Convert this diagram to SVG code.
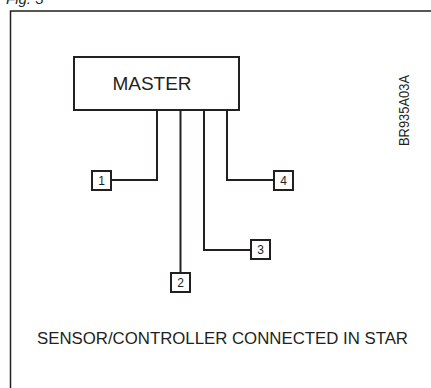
<svg xmlns="http://www.w3.org/2000/svg" width="431" height="388" viewBox="0 0 431 388">
  <style>
    .frame { fill: none; stroke: #231f20; stroke-width: 1.5; }
    .box { fill: #ffffff; stroke: #231f20; stroke-width: 2; }
    .wire { fill: none; stroke: #231f20; stroke-width: 2; }
    .txt { font-family: "Liberation Sans", Arial, sans-serif; fill: #231f20; }
    .num { font-family: "Liberation Sans", Arial, sans-serif; fill: #231f20; font-size: 12px; text-anchor: middle; }
  </style>
  <rect width="431" height="388" fill="#ffffff"/>
  <text class="txt" x="6" y="3.5" font-size="15" font-style="italic">Fig. 3</text>
  <path class="frame" d="M10.5 400 V11 H440"/>

  <g id="connectors">
    <path class="wire" d="M157 110 V180 H111"/>
    <path class="wire" d="M180.5 110 V273"/>
    <path class="wire" d="M204 110 V250 H251"/>
    <path class="wire" d="M227 110 V180 H274"/>
  </g>

  <g id="master">
    <rect class="box" x="74" y="57" width="165" height="53"/>
    <text class="txt" x="152" y="89.5" font-size="19" text-anchor="middle">MASTER</text>
  </g>
  <g id="node1">
    <rect class="box" x="92" y="171" width="19" height="19"/>
    <text class="num" x="101.5" y="185">1</text>
  </g>
  <g id="node2">
    <rect class="box" x="171" y="273" width="19" height="19"/>
    <text class="num" x="180.5" y="287">2</text>
  </g>
  <g id="node3">
    <rect class="box" x="251" y="240" width="19" height="19"/>
    <text class="num" x="260.5" y="254">3</text>
  </g>
  <g id="node4">
    <rect class="box" x="274" y="171" width="19" height="19"/>
    <text class="num" x="283.5" y="185">4</text>
  </g>

  <text class="txt" transform="translate(409 146) rotate(-90)" font-size="14" textLength="71" lengthAdjust="spacingAndGlyphs">BR935A03A</text>
  <text class="txt" x="37" y="344" font-size="16" textLength="371" lengthAdjust="spacingAndGlyphs">SENSOR/CONTROLLER CONNECTED IN STAR</text>
</svg>
